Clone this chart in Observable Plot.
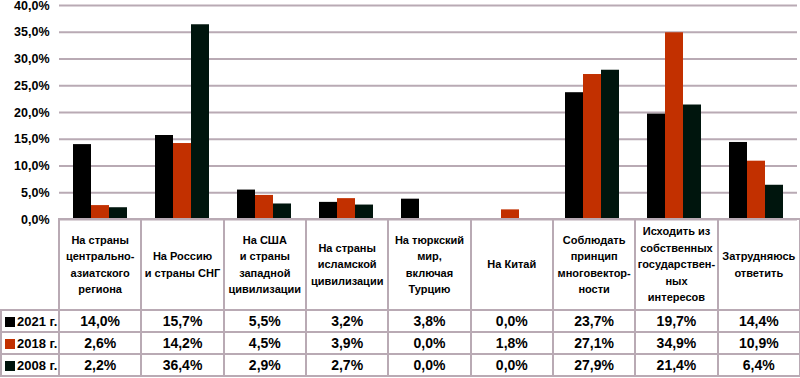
<!DOCTYPE html>
<html><head><meta charset="utf-8">
<script src="https://cdn.jsdelivr.net/npm/d3@7"></script>
<script src="https://cdn.jsdelivr.net/npm/@observablehq/plot@0.6"></script>
<style>
body{margin:0;background:#fff;font-family:"Liberation Sans",Arial,sans-serif;font-weight:bold;color:#000}
#wrap{position:relative;width:800px;height:378px;overflow:hidden}
#wrap svg{position:absolute;left:0;top:0}
table{border-collapse:collapse;table-layout:fixed;position:absolute;left:0;top:218px;width:799px}
td{border:2px solid #b9aab4;padding:0;text-align:center;background:transparent}
td.hdr{height:89px;font-size:11px;line-height:16.5px;vertical-align:middle}
td.corner{border-top:none;border-left:none}
td.val{height:20px;font-size:14px}
td.ser{text-align:left;font-size:13px;padding-left:3px;white-space:nowrap}
.key{display:inline-block;width:10px;height:10px;margin-right:2px;vertical-align:-1px}
</style></head><body><div id="wrap"></div>
<script>
const categories = [
  "На страны\nцентрально-\nазиатского\nрегиона",
  "На Россию\nи страны СНГ",
  "На США\nи страны\nзападной\nцивилизации",
  "На страны\nисламской\nцивилизации",
  "На тюркский\nмир,\nвключая\nТурцию",
  "На Китай",
  "Соблюдать\nпринцип\nмноговектор-\nности",
  "Исходить из\nсобственных\nгосударствен-\nных\nинтересов",
  "Затрудняюсь\nответить"
];
const seriesNames = ["2021 г.", "2018 г.", "2008 г."];
const values2021 = [14.0, 15.7, 5.5, 3.2, 3.8, 0.0, 23.7, 19.7, 14.4];
const values2018 = [2.6, 14.2, 4.5, 3.9, 0.0, 1.8, 27.1, 34.9, 10.9];
const values2008 = [2.2, 36.4, 2.9, 2.7, 0.0, 0.0, 27.9, 21.4, 6.4];
const seriesColors = ["#000000", "#c23000", "#00150d"];
const yTicks = [0, 5, 10, 15, 20, 25, 30, 35, 40];

const seriesValues = [values2021, values2018, values2008];
const fmt = v => v.toFixed(1).replace(".", ",") + "%";
const data = categories.flatMap((c, i) => seriesNames.map((s, j) => ({category: c, series: s, value: seriesValues[j][i]})));

const chart = Plot.plot({
  width: 800, height: 226,
  marginLeft: 58, marginRight: 2, marginTop: 5, marginBottom: 7,
  style: {fontFamily: "'Liberation Sans', Arial, sans-serif", fontWeight: "bold", fontSize: "12.5px", color: "#000", background: "transparent", overflow: "visible"},
  facet: {data, x: "category"},
  fx: {domain: categories, paddingInner: 0, paddingOuter: 0, axis: null},
  x: {domain: seriesNames, paddingInner: 0, paddingOuter: 0.75, axis: null},
  y: {domain: [0, 40], ticks: yTicks, tickFormat: fmt, tickSize: 0, tickPadding: 10, label: null},
  color: {domain: seriesNames, range: seriesColors},
  marks: [
    Plot.ruleY(yTicks, {stroke: "#b9aab4", strokeWidth: 2}),
    Plot.barY(data, {x: "series", y: "value", fill: "series"})
  ]
});
const wrap = document.getElementById("wrap");
wrap.appendChild(chart);

// data table below the chart
const table = document.createElement("table");
const cg = document.createElement("colgroup");
[58, ...categories.map(() => 82.33)].forEach(w => {
  const col = document.createElement("col"); col.style.width = w + "px"; cg.appendChild(col);
});
table.appendChild(cg);
const hr = document.createElement("tr");
const corner = document.createElement("td"); corner.className = "hdr corner"; hr.appendChild(corner);
categories.forEach(c => {
  const td = document.createElement("td"); td.className = "hdr";
  td.innerHTML = c.split("\n").join("<br>");
  hr.appendChild(td);
});
table.appendChild(hr);
seriesNames.forEach((s, j) => {
  const tr = document.createElement("tr");
  const th = document.createElement("td"); th.className = "ser val";
  th.innerHTML = `<span class="key" style="background:${seriesColors[j]}"></span>${s}`;
  tr.appendChild(th);
  seriesValues[j].forEach(v => {
    const td = document.createElement("td"); td.className = "val"; td.textContent = fmt(v); tr.appendChild(td);
  });
  table.appendChild(tr);
});
wrap.appendChild(table);
</script></body></html>
